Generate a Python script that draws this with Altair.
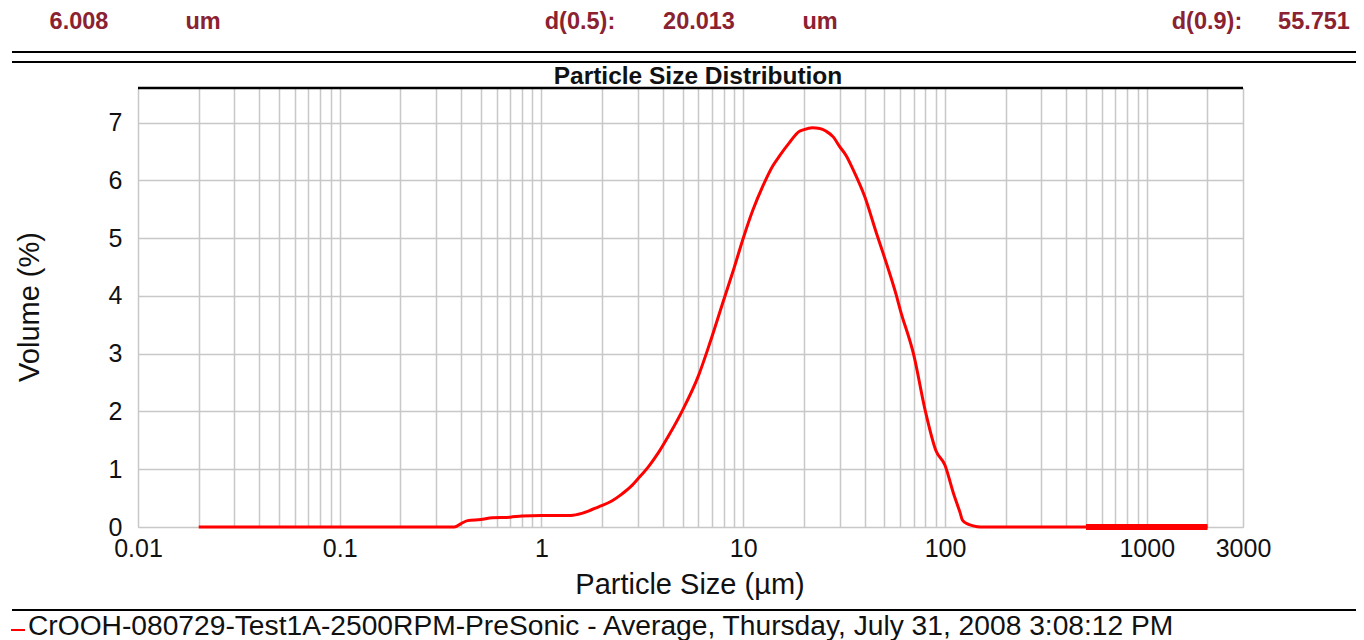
import altair as alt
import pandas as pd

FONT = "Liberation Sans"

# ---- data ----
sizes = [0.02, 0.37, 0.40, 0.43, 0.50, 0.57, 0.70, 0.80, 1.0, 1.4, 1.6, 1.92, 2.23, 2.5,
         2.81, 3.0, 3.4, 3.82, 4.3, 5.0, 6.0, 6.78, 8.0, 9.0, 10.0, 11.2, 12.5, 14.0, 15.1,
         16.9, 19.0, 20.0, 22.0, 23.9, 25.8, 28.0, 30.0, 32.5, 35.0, 40.0, 45.7, 50.0, 57.5,
         60.0, 70.0, 80.0, 90.0, 100.0, 110.0, 119.0, 122.0, 130.0, 138.0, 150.0, 500.0, 2000.0]
volumes = [0, 0, 0.06, 0.11, 0.13, 0.16, 0.17, 0.19, 0.20, 0.20, 0.24, 0.35, 0.45, 0.57,
           0.72, 0.83, 1.05, 1.3, 1.6, 2.02, 2.62, 3.15, 3.93, 4.48, 5.0, 5.5, 5.9, 6.25, 6.42,
           6.65, 6.85, 6.88, 6.91, 6.90, 6.85, 6.75, 6.59, 6.42, 6.19, 5.72, 5.09, 4.68, 4.0,
           3.76, 2.98, 2.0, 1.33, 1.07, 0.59, 0.24, 0.12, 0.05, 0.02, 0.0, 0.0, 0.0]
thick_sizes = [500.0, 2000.0]
thick_volumes = [0.0, 0.0]

x_grid_values = [k * 10.0 ** e for e in range(-2, 4) for k in range(1, 10)]
x_grid_values = [round(v, 6) for v in x_grid_values if v <= 2000] + [3000]
x_label_values = [0.01, 0.1, 1, 10, 100, 1000, 3000]
y_values = [0, 1, 2, 3, 4, 5, 6, 7]

header_texts = ["6.008", "um", "d(0.5):", "20.013", "um", "d(0.9):", "55.751"]
chart_title = "Particle Size Distribution"
x_title = "Particle Size (µm)"
y_title = "Volume (%)"
legend_text = "CrOOH-080729-Test1A-2500RPM-PreSonic - Average, Thursday, July 31, 2008 3:08:12 PM"

W, H = 1105, 439

df = pd.DataFrame({"size": sizes, "volume": volumes})
df_thick = pd.DataFrame({"size": thick_sizes, "volume": thick_volumes})
one = pd.DataFrame({"k": [0]})

label_list = ",".join(str(v) for v in x_label_values)

x_enc = alt.X(
    "size:Q",
    scale=alt.Scale(type="log", domain=[0.01, 3000], nice=False),
    axis=alt.Axis(
        values=x_grid_values, format="~g",
        labelExpr=f"indexof([{label_list}], datum.value) >= 0 ? datum.label : ''",
        ticks=False, domain=False, grid=True, gridColor="#c8c8c8", gridWidth=1.5,
        labelFont=FONT, labelFontSize=25, labelColor="#111", labelPadding=9,
        labelOverlap=False, labelFlush=False, labelBound=False, title=None,
    ),
)
y_enc = alt.Y(
    "volume:Q",
    scale=alt.Scale(domain=[0, 7.6], nice=False),
    axis=alt.Axis(
        values=y_values, format="d", ticks=False, domain=False, grid=True,
        gridColor="#c8c8c8", gridWidth=1.5, labelFont=FONT, labelFontSize=25,
        labelColor="#111", labelPadding=16, title=None,
    ),
)

main = alt.Chart(df).mark_line(color="#ff0000", strokeWidth=3, interpolate="monotone").encode(
    x=x_enc, y=y_enc
)
thick = alt.Chart(df_thick).mark_line(color="#ff0000", strokeWidth=6).encode(
    x="size:Q", y="volume:Q"
)


def rule(x1, x2, y, color="black", width=2):
    return alt.Chart(one).mark_rule(color=color, strokeWidth=width).encode(
        x=alt.value(x1), x2=alt.value(x2), y=alt.value(y)
    )


def text(txt, x, y, size, color="#111", weight="normal", align="center", angle=0):
    return alt.Chart(one).mark_text(
        text=txt, font=FONT, fontSize=size, color=color, fontWeight=weight,
        align=align, baseline="middle", angle=angle,
    ).encode(x=alt.value(x), y=alt.value(y))


header_x = [-59, 65, 442, 561, 682, 1069, 1176]
layers = [main, thick]
layers.append(rule(0, W, 0, "black", 2.5))
layers.append(rule(-126, 1218, -36, "black", 2))
layers.append(rule(-126, 1218, -26, "black", 2))
layers.append(rule(-126, 1218, 522, "black", 2))
layers.append(rule(-127, -113, 542, "#ff0000", 2))
for t, hx in zip(header_texts, header_x):
    layers.append(text(t, hx, -66, 23.5, color="#8b2232", weight="bold"))
layers.append(text(chart_title, 560, -11, 24.5, weight="bold"))
layers.append(text(x_title, 552, 497, 29))
layers.append(text(y_title, -108, 219, 29, angle=270))
layers.append(text(legend_text, -110, 539, 28.2, align="left"))

chart = alt.layer(*layers).properties(
    width=W, height=H,
    autosize=alt.AutoSizeParams(type="none"),
    padding={"left": 130, "top": 80, "right": 113, "bottom": 113},
).configure_view(stroke="#c8c8c8", strokeWidth=1.5).configure(background="white")

chart.save("out.html", embed_options={"renderer": "svg", "actions": False})
